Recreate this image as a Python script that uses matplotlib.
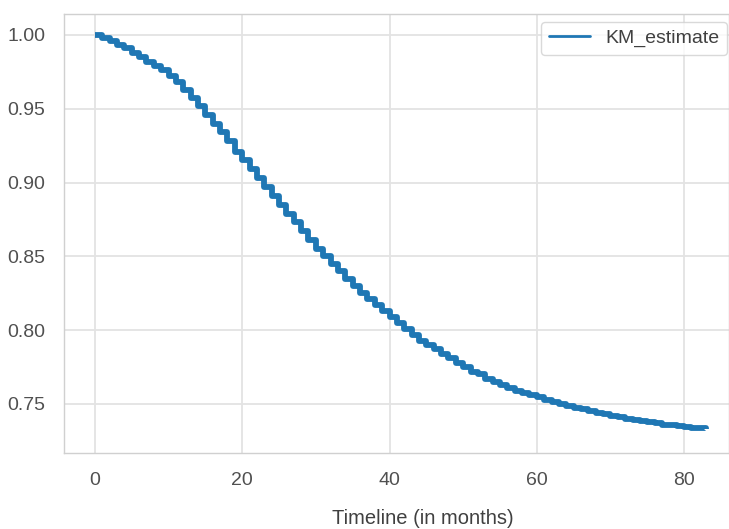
import matplotlib
matplotlib.use("Agg")
import matplotlib.pyplot as plt
from matplotlib.lines import Line2D
import seaborn as sns

months = list(range(0, 84))
km_estimate = [
    1.000, 0.998, 0.996, 0.993, 0.991, 0.988, 0.985, 0.982, 0.979, 0.976,
    0.972, 0.968, 0.963, 0.957, 0.952, 0.946, 0.940, 0.934, 0.928, 0.921,
    0.915, 0.909, 0.903, 0.897, 0.891, 0.885, 0.879, 0.873, 0.867, 0.861,
    0.855, 0.850, 0.845, 0.840, 0.835, 0.830, 0.825, 0.821, 0.817, 0.813,
    0.809, 0.805, 0.801, 0.797, 0.793, 0.790, 0.787, 0.784, 0.781, 0.778,
    0.775, 0.772, 0.770, 0.767, 0.765, 0.763, 0.761, 0.759, 0.7575, 0.756,
    0.7545, 0.753, 0.7515, 0.750, 0.7488, 0.7476, 0.7464, 0.7452, 0.7441, 0.7430,
    0.7419, 0.7409, 0.7400, 0.7391, 0.7383, 0.7375, 0.7368, 0.7361, 0.7355, 0.7349,
    0.7344, 0.7339, 0.7335, 0.7331,
]
x_ticks = [0, 20, 40, 60, 80]
y_ticks = [0.75, 0.80, 0.85, 0.90, 0.95, 1.00]
series_label = "KM_estimate"
x_label = "Timeline (in months)"

sns.set_style("whitegrid")
plt.rcParams['font.family'] = ['Liberation Sans', 'DejaVu Sans']

fig = plt.figure(figsize=(7.29, 5.29), dpi=100)
ax = fig.add_axes([64 / 729, 76 / 529, 665 / 729, 439 / 529])

color = "#1f77b4"
ax.plot(months, km_estimate, drawstyle="steps-post", color=color, lw=4.2,
        solid_joinstyle="round", solid_capstyle="butt")

ax.set_xlim(-4.2, 86.1)
ax.set_ylim(0.7168, 1.0142)
ax.set_xticks(x_ticks)
ax.set_yticks(y_ticks)
ax.set_yticklabels([f"{v:.2f}" for v in y_ticks])
ax.tick_params(axis="both", labelsize=14, colors="#505050")
ax.tick_params(axis="x", pad=10)
ax.tick_params(axis="y", pad=10)
for s in ax.spines.values():
    s.set_color("#d0d0d0")
    s.set_linewidth(1.0)
ax.grid(True, color="#e3e3e3", lw=1.3)

handle = Line2D([], [], color=color, lw=2.0)
leg = ax.legend([handle], [series_label], loc="upper right", fontsize=14,
                frameon=True, handlelength=2.1, handletextpad=0.8,
                borderaxespad=0.0, bbox_to_anchor=(0.997, 0.982))
leg.get_frame().set_edgecolor("#d0d0d0")
for t in leg.get_texts():
    t.set_color("#404040")

fig.text(423 / 729, 1 - 518 / 529, x_label, ha="center", va="center",
         fontsize=14.5, color="#404040")

fig.savefig("out.png", dpi=100)
